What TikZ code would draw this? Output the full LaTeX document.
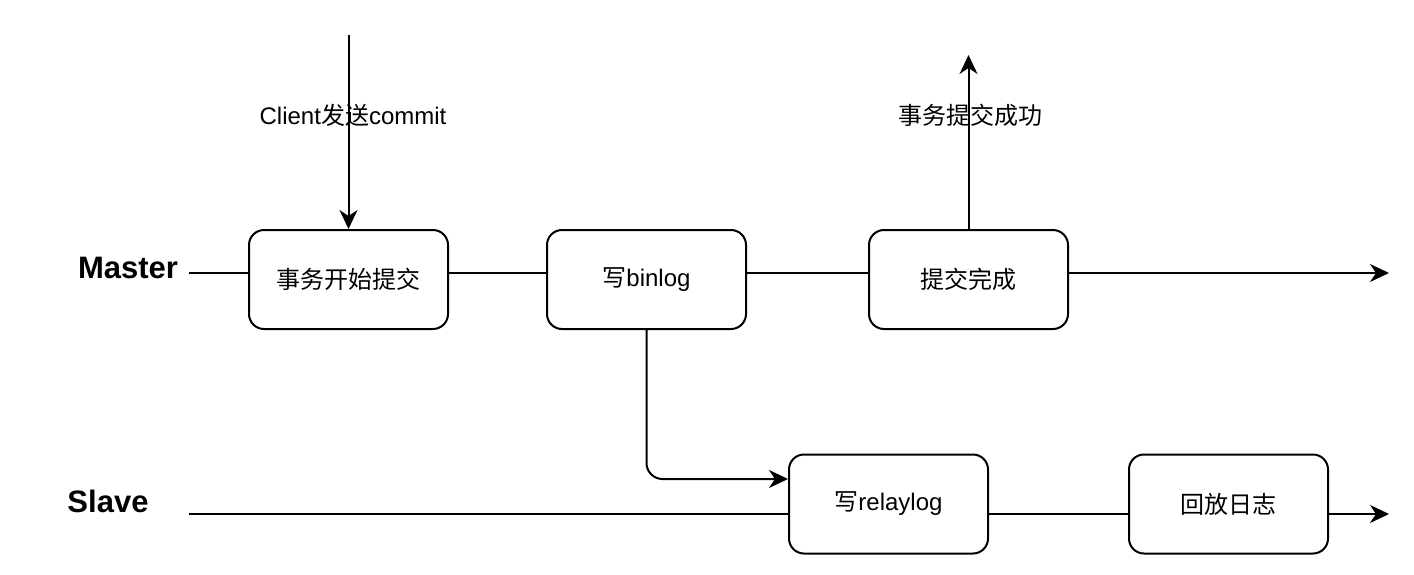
\documentclass[tikz,border=0pt]{standalone}
\usepackage{fontspec}
\setmainfont{Liberation Sans}
\newfontfamily\cjk{Noto Sans CJK SC}
\usetikzlibrary{positioning, arrows.meta}

\begin{document}
\begin{tikzpicture}[x=0.5pt, y=-0.5pt,
  stepbox/.style={draw, line width=1pt, rounded corners=7.5pt,
    minimum width=99.5pt, minimum height=49.5pt, inner sep=0pt,
    font=\fontsize{12}{14}\selectfont},
  lane/.style={font=\fontsize{15.5}{18}\selectfont\bfseries},
  lbl/.style={font=\fontsize{12}{14}\selectfont, inner sep=0pt},
  arr/.style={-{Stealth[length=9.5pt, width=9pt, inset=3pt]}, line width=1pt},
  ln/.style={line width=1pt}]
\useasboundingbox (0,0) rectangle (1414,574);

% lanes
\node[lane] (mst) at (128,268) {Master};
\node[lane] (slv) at (108,501) {Slave};
\coordinate (mS) at (189,273);
\coordinate (mE) at (1389,273);
\coordinate (sS) at (189,514);
\coordinate (sE) at (1389,514);

% steps
\node[stepbox] (b1) at (348.5,279.5) {\cjk 事务开始提交};
\node[stepbox] (b2) at (646.5,279.5) {\cjk 写\normalfont binlog};
\node[stepbox] (b3) at (968.5,279.5) {\cjk 提交完成};
\node[stepbox] (b4) at (888.5,504) {\cjk 写\normalfont relaylog};
\node[stepbox] (b5) at (1228.5,504) {\cjk 回放日志};

% client in / out
\coordinate (cin) at (348.5,35);
\coordinate (cout) at (968.5,55);
\node[lbl] (clab) at (353,115) {Client{\cjk 发送}commit};
\node[lbl] (olab) at (970,115) {\cjk 事务提交成功};
\draw[arr] (cin) -- (b1.north);
\draw[arr] (b3.north) -- (cout);

% master line
\draw[ln] (mS) -- (mS -| b1.west);
\draw[ln] (mS -| b1.east) -- (mS -| b2.west);
\draw[ln] (mS -| b2.east) -- (mS -| b3.west);
\draw[arr] (mS -| b3.east) -- (mE);

% slave line
\draw[ln] (sS) -- (sS -| b4.west);
\draw[ln] (sS -| b4.east) -- (sS -| b5.west);
\draw[arr] (sS -| b5.east) -- (sE);

% binlog -> relaylog
\draw[arr, rounded corners=8pt] (b2.south) |- ([yshift=12.5pt]b4.west);
\end{tikzpicture}
\end{document}
